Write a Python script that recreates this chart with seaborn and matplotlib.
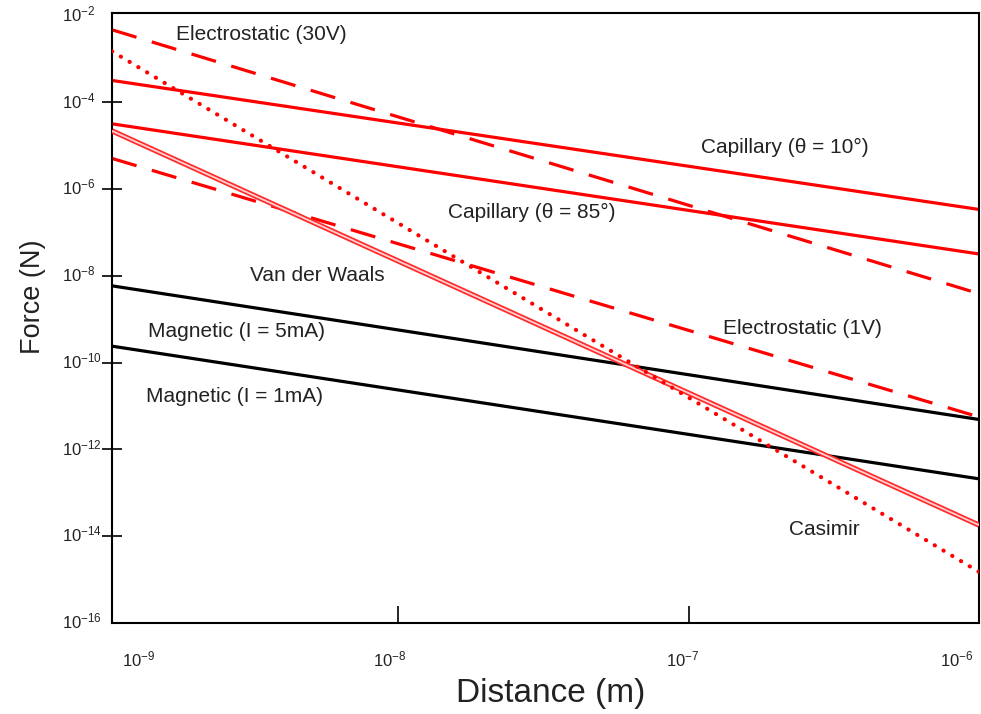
"""Force scaling vs. distance (log-log), redrawn from a reference figure."""

import matplotlib

matplotlib.use("Agg")
import matplotlib.pyplot as plt
import pandas as pd
import seaborn as sns
from matplotlib.ticker import FixedLocator, NullFormatter, NullLocator

# Distances (m) at the left and right edge of the plot.
DISTANCE = [1.035e-9, 1.0e-6]

# Force (N) at those two distances.
ELECTROSTATIC_30V = [4.7e-3, 3.9e-9]
ELECTROSTATIC_1V = [5.1e-6, 5.6e-12]
CAPILLARY_10 = [3.2e-4, 3.4e-7]
CAPILLARY_85 = [3.2e-5, 3.2e-8]
VAN_DER_WAALS = [2.2e-5, 1.8e-14]
CASIMIR = [1.5e-3, 1.5e-15]
MAGNETIC_5MA = [5.9e-9, 4.9e-12]
MAGNETIC_1MA = [2.4e-10, 2.1e-13]

SERIES = {
    "Electrostatic (30V)": ELECTROSTATIC_30V,
    "Electrostatic (1V)": ELECTROSTATIC_1V,
    "Capillary (θ = 10°)": CAPILLARY_10,
    "Capillary (θ = 85°)": CAPILLARY_85,
    "Van der Waals": VAN_DER_WAALS,
    "Casimir": CASIMIR,
    "Magnetic (I = 5mA)": MAGNETIC_5MA,
    "Magnetic (I = 1mA)": MAGNETIC_1MA,
}

Y_TICKS = [1e-16, 1e-14, 1e-12, 1e-10, 1e-8, 1e-6, 1e-4, 1e-2]
Y_TICK_LABELS = ["-16", "-14", "-12", "-10", "-8", "-6", "-4", "-2"]
X_TICKS = [1e-9, 1e-8, 1e-7, 1e-6]
X_TICK_LABELS = ["-9", "-8", "-7", "-6"]

RED = "#ff0000"
DASHED = (0, (8, 5))
DOTTED = (0, (0.05, 2.4))

# label text -> position in axes fraction (left edge, vertical centre)
LABEL_POS = {
    "Electrostatic (30V)": (0.074, 0.964),
    "Capillary (θ = 10°)": (0.679, 0.780),
    "Capillary (θ = 85°)": (0.388, 0.673),
    "Van der Waals": (0.159, 0.570),
    "Electrostatic (1V)": (0.705, 0.483),
    "Magnetic (I = 5mA)": (0.042, 0.478),
    "Magnetic (I = 1mA)": (0.039, 0.371),
    "Casimir": (0.781, 0.153),
}


def build_frame() -> pd.DataFrame:
    rows = []
    for name, forces in SERIES.items():
        for d, f in zip(DISTANCE, forces):
            rows.append({"series": name, "distance": d, "force": f})
    return pd.DataFrame(rows)


def main() -> None:
    sns.set_theme(style="white")
    plt.rcParams["font.family"] = ["Liberation Sans", "DejaVu Sans"]
    plt.rcParams["mathtext.fontset"] = "custom"
    plt.rcParams["mathtext.rm"] = "Liberation Sans"
    plt.rcParams["mathtext.default"] = "regular"

    df = build_frame()

    fig = plt.figure(figsize=(9.81, 7.14), dpi=100)
    ax = fig.add_axes([0.1142, 0.1275, 0.8838, 0.8543])

    def line(name, color, lw, ls="-", z=2, cap="butt"):
        sns.lineplot(
            data=df[df["series"] == name], x="distance", y="force",
            color=color, lw=lw, linestyle=ls, ax=ax, zorder=z,
            solid_capstyle="butt", dash_capstyle=cap, legend=False,
        )

    line("Capillary (θ = 10°)", RED, 2.3)
    line("Capillary (θ = 85°)", RED, 2.3)
    line("Electrostatic (30V)", RED, 2.3, DASHED)
    line("Electrostatic (1V)", RED, 2.3, DASHED)
    line("Magnetic (I = 5mA)", "black", 2.3)
    line("Magnetic (I = 1mA)", "black", 2.3)
    # double line: red underneath, thin white core on top
    line("Van der Waals", "#ff2a2a", 3.8, z=3)
    line("Van der Waals", "#ffd0d0", 1.3, z=3.1)
    line("Casimir", RED, 3.0, DOTTED, z=4, cap="round")

    ax.set_xscale("log")
    ax.set_yscale("log")
    ax.set_xlim(DISTANCE[0], DISTANCE[1])
    ax.set_ylim(1e-16, 10 ** -1.94)

    # tick marks only on the inner decades; labels go on every decade
    ax.yaxis.set_major_locator(FixedLocator(Y_TICKS[1:-1]))
    ax.yaxis.set_minor_locator(NullLocator())
    ax.yaxis.set_major_formatter(NullFormatter())
    ax.xaxis.set_major_locator(FixedLocator(X_TICKS[1:3]))
    ax.xaxis.set_minor_locator(NullLocator())
    ax.xaxis.set_major_formatter(NullFormatter())
    ax.tick_params(axis="y", direction="inout", length=14, width=1.2,
                   color="black", left=True)
    ax.tick_params(axis="x", direction="in", length=12, width=1.2,
                   color="black", bottom=True)

    for s in ax.spines.values():
        s.set_linewidth(1.5)
        s.set_color("black")

    for v, p in zip(Y_TICKS, Y_TICK_LABELS):
        ax.annotate(rf"$10^{{{p}}}$", xy=(0, v), xycoords=("axes fraction", "data"),
                    xytext=(-36, 1), textcoords="offset points",
                    ha="left", va="center", fontsize=12, color="#222222",
                    annotation_clip=False)
    x_offsets = [22, -6, -4, -16]
    for v, p, dx in zip(X_TICKS, X_TICK_LABELS, x_offsets):
        ax.annotate(rf"$10^{{{p}}}$", xy=(v, 0), xycoords=("data", "axes fraction"),
                    xytext=(dx, -26), textcoords="offset points",
                    ha="center", va="center", fontsize=12, color="#222222",
                    annotation_clip=False)

    for text, (x, y) in LABEL_POS.items():
        ax.text(x, y, text, transform=ax.transAxes, ha="left", va="center",
                fontsize=15, color="#222222")

    ax.set_xlabel("Distance (m)", fontsize=24, color="#222222")
    ax.set_ylabel("Force (N)", fontsize=19.5, color="#222222")
    ax.xaxis.set_label_coords(0.506, -0.115)
    ax.xaxis.label.set_va("center")
    ax.yaxis.set_label_coords(-0.091, 0.534)
    ax.yaxis.label.set_va("center")

    fig.savefig("out.png", dpi=100, facecolor="white")
    plt.close(fig)


if __name__ == "__main__":
    main()
